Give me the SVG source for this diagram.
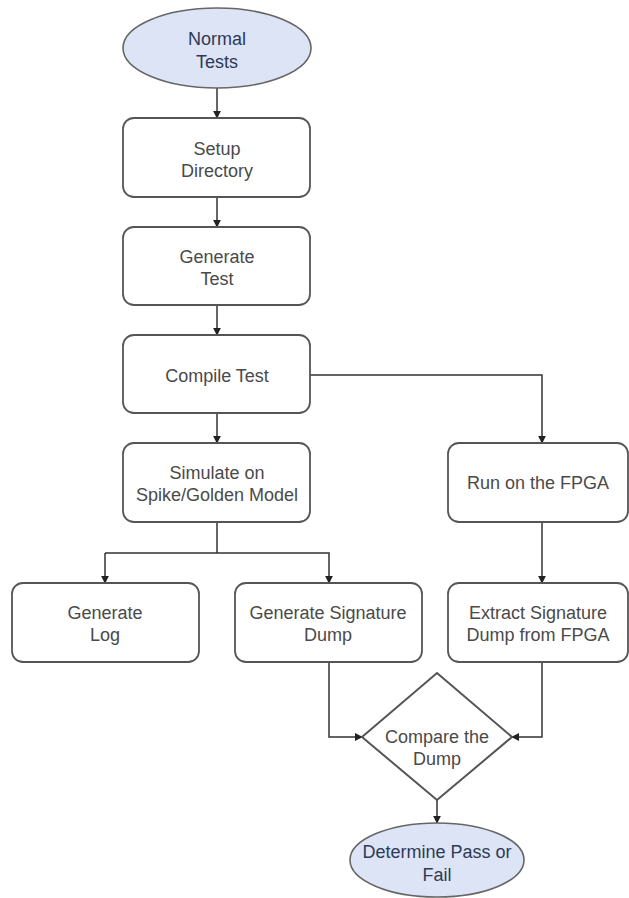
<svg xmlns="http://www.w3.org/2000/svg" width="629" height="898" viewBox="0 0 629 898">
  <defs>
    <marker id="arrow" viewBox="0 0 10 10" refX="9" refY="5" markerWidth="8" markerHeight="8" markerUnits="userSpaceOnUse" orient="auto">
      <path d="M0,0 L10,5 L0,10 Z" fill="#222"/>
    </marker>
    <style>
      .box { fill: #ffffff; stroke: #555; stroke-width: 1.8; }
      .term { fill: #dce4f6; stroke: #666; stroke-width: 1.6; }
      .edge { fill: none; stroke: #333; stroke-width: 1.5; marker-end: url(#arrow); }
      .line { fill: none; stroke: #333; stroke-width: 1.5; }
      text { font-family: "Liberation Sans", Arial, sans-serif; font-size: 18px; fill: #4a4a4a; text-anchor: middle; }
      .dark { fill: #2e3a55; }
    </style>
  </defs>
  <rect width="629" height="898" fill="#ffffff"/>

  <g id="connectors">
    <path class="edge" d="M217,88 V118"/>
    <path class="edge" d="M217,197 V227"/>
    <path class="edge" d="M217,305 V335"/>
    <path class="edge" d="M217,413 V443"/>
    <path class="edge" d="M310,375 H542 V443"/>
    <path class="line" d="M217,522 V553"/>
    <path class="edge" d="M105,553 H329 V583"/>
    <path class="edge" d="M105,553 V583"/>
    <path class="edge" d="M542,522 V583"/>
    <path class="edge" d="M329,662 V737 H362"/>
    <path class="edge" d="M542,662 V737 H512"/>
    <path class="edge" d="M437,800 V823"/>
  </g>

  <g id="normal-tests">
    <ellipse class="term" cx="217" cy="48" rx="94" ry="40"/>
    <text class="dark" x="217" y="45">Normal</text>
    <text class="dark" x="217" y="68">Tests</text>
  </g>

  <g id="setup-directory">
    <rect class="box" x="123" y="118" width="187" height="79" rx="11"/>
    <text x="217" y="155">Setup</text>
    <text x="217" y="177">Directory</text>
  </g>

  <g id="generate-test">
    <rect class="box" x="123" y="227" width="187" height="78" rx="11"/>
    <text x="217" y="263">Generate</text>
    <text x="217" y="285">Test</text>
  </g>

  <g id="compile-test">
    <rect class="box" x="123" y="335" width="187" height="78" rx="11"/>
    <text x="217" y="382">Compile Test</text>
  </g>

  <g id="simulate">
    <rect class="box" x="123" y="443" width="187" height="79" rx="11"/>
    <text x="217" y="479">Simulate on</text>
    <text x="217" y="501">Spike/Golden Model</text>
  </g>

  <g id="run-fpga">
    <rect class="box" x="448" y="443" width="180" height="79" rx="11"/>
    <text x="538" y="489">Run on the FPGA</text>
  </g>

  <g id="generate-log">
    <rect class="box" x="12" y="583" width="187" height="79" rx="11"/>
    <text x="105" y="619">Generate</text>
    <text x="105" y="641">Log</text>
  </g>

  <g id="generate-signature-dump">
    <rect class="box" x="235" y="583" width="187" height="79" rx="11"/>
    <text x="328" y="619">Generate Signature</text>
    <text x="328" y="641">Dump</text>
  </g>

  <g id="extract-signature-dump">
    <rect class="box" x="448" y="583" width="180" height="79" rx="11"/>
    <text x="538" y="619">Extract Signature</text>
    <text x="538" y="641">Dump from FPGA</text>
  </g>

  <g id="compare-dump">
    <polygon class="box" points="437,673 512,737 437,800 362,737" style="stroke-width:2"/>
    <text x="437" y="743">Compare the</text>
    <text x="437" y="765">Dump</text>
  </g>

  <g id="determine-pass-fail">
    <ellipse class="term" cx="437" cy="860" rx="87" ry="37"/>
    <text class="dark" x="437" y="858">Determine Pass or</text>
    <text class="dark" x="437" y="881">Fail</text>
  </g>
</svg>
